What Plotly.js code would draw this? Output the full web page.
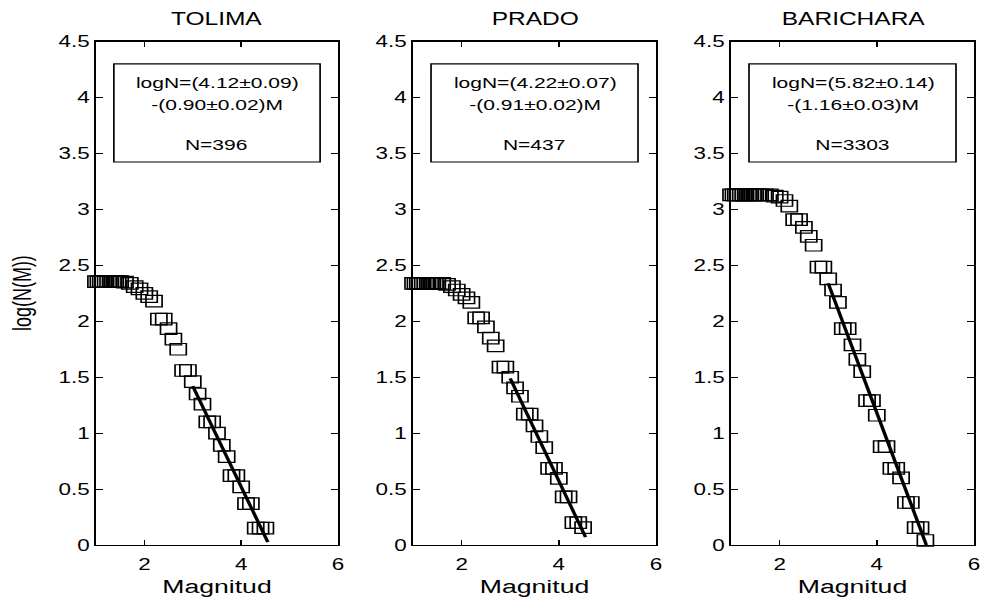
<!DOCTYPE html>
<html>
<head>
<meta charset="utf-8">
<script src="https://cdn.plot.ly/plotly-3.0.1.min.js"></script>
<style>
  html, body { margin: 0; padding: 0; background: #fff; overflow: hidden; }
  #wrap { width: 982px; height: 601px; overflow: hidden; }
  #chart { width: 701px; height: 601px; transform: scaleX(1.4009); transform-origin: 0 0; }
</style>
</head>
<body>
<div id="wrap"><div id="chart"></div></div>
<script>
// ---- data ----
const panelTitles = ["TOLIMA", "PRADO", "BARICHARA"];
const eqLine1 = ["logN=(4.12\u00B10.09)", "logN=(4.22\u00B10.07)", "logN=(5.82\u00B10.14)"];
const eqLine2 = ["-(0.90\u00B10.02)M", "-(0.91\u00B10.02)M", "-(1.16\u00B10.03)M"];
const countLabels = ["N=396", "N=437", "N=3303"];

const tolimaM = [1.0,1.05,1.1,1.15,1.2,1.25,1.3,1.35,1.4,1.45,1.5,1.6,1.7,1.8,1.9,2.0,2.1,2.2,
  2.3,2.4,2.5,2.6,2.7,2.8,2.9,3.0,3.1,3.2,3.3,3.4,3.5,3.6,3.7,3.8,3.9,4.0,4.1,4.2,4.3,4.4,4.5];
const tolimaLogN = [2.355,2.355,2.355,2.355,2.355,2.355,2.355,2.355,2.355,2.355,2.355,2.35,2.34,2.31,2.29,2.25,2.22,2.18,
  2.02,2.02,1.935,1.84,1.75,1.56,1.56,1.46,1.35,1.26,1.10,1.10,1.0,0.89,0.79,0.62,0.62,0.52,0.37,0.37,0.15,0.15,0.15];

const pradoM = [1.0,1.05,1.1,1.15,1.2,1.25,1.3,1.35,1.4,1.45,1.5,1.6,1.7,1.8,1.9,2.0,2.1,2.2,
  2.3,2.4,2.5,2.6,2.7,2.8,2.9,3.0,3.1,3.2,3.3,3.4,3.5,3.6,3.7,3.8,3.9,4.0,4.1,4.2,4.3,4.4,4.5];
const pradoLogN = [2.34,2.34,2.34,2.34,2.34,2.34,2.34,2.34,2.34,2.34,2.34,2.34,2.33,2.31,2.28,2.24,2.21,2.17,
  2.03,2.03,1.95,1.85,1.78,1.59,1.59,1.50,1.405,1.33,1.17,1.17,1.065,0.97,0.87,0.685,0.685,0.595,0.43,0.43,0.20,0.20,0.155];

const baricharaM = [1.0,1.05,1.1,1.15,1.2,1.25,1.3,1.35,1.4,1.45,1.5,1.55,1.6,1.7,1.8,1.9,2.0,2.1,2.2,
  2.3,2.4,2.5,2.6,2.7,2.8,2.9,3.0,3.1,3.2,3.3,3.4,3.5,3.6,3.7,3.8,3.9,4.0,4.1,4.2,4.3,4.4,4.5,4.6,4.7,4.8,4.9,5.0];
const baricharaLogN = [3.13,3.13,3.13,3.13,3.13,3.13,3.13,3.13,3.13,3.13,3.13,3.13,3.13,3.13,3.13,3.12,3.11,3.08,3.03,
  2.91,2.91,2.84,2.76,2.68,2.485,2.485,2.38,2.28,2.17,1.935,1.935,1.79,1.66,1.55,1.29,1.29,1.16,0.88,0.88,0.685,0.685,0.60,0.38,0.38,0.155,0.155,0.04];

// least-squares lines as drawn in the reference (end points)
const tolimaFitM = [3.0, 4.55];
const tolimaFitLogN = [1.42, 0.025];
const pradoFitM = [3.0, 4.55];
const pradoFitLogN = [1.49, 0.07];
const baricharaFitM = [3.0, 5.02];
const baricharaFitLogN = [2.34, 0.0];

const xTickVals = [2, 4, 6];
const yTickVals = [0, 0.5, 1, 1.5, 2, 2.5, 3, 3.5, 4, 4.5];
const xLabel = "Magnitud";
const yLabel = "log(N(M))";

// ---- build figure ----
const series = [
  {m: tolimaM, y: tolimaLogN, fm: tolimaFitM, fy: tolimaFitLogN},
  {m: pradoM, y: pradoLogN, fm: pradoFitM, fy: pradoFitLogN},
  {m: baricharaM, y: baricharaLogN, fm: baricharaFitM, fy: baricharaFitLogN}
];
const domains = [[0.0977, 0.3442], [0.4206, 0.6680], [0.7444, 0.9918]];
const yDomain = [0.0932, 0.9306];
const FONT = "Liberation Sans, Arial, sans-serif";

const traces = [];
const layout = {
  width: 701, height: 601,
  margin: {l: 0, r: 0, t: 0, b: 0},
  paper_bgcolor: "#fff", plot_bgcolor: "#fff",
  showlegend: false,
  font: {family: FONT, color: "#000"},
  annotations: [], shapes: []
};

series.forEach((s, i) => {
  const sx = i === 0 ? "" : String(i + 1);
  traces.push({
    type: "scatter", mode: "markers", x: s.m, y: s.y,
    xaxis: "x" + sx, yaxis: "y" + sx, cliponaxis: false,
    marker: {symbol: "square-open", size: 11.5, color: "#000", line: {width: 1.2, color: "#000"}},
    hoverinfo: "skip"
  });
  traces.push({
    type: "scatter", mode: "lines", x: s.fm, y: s.fy,
    xaxis: "x" + sx, yaxis: "y" + sx,
    line: {color: "#000", width: 2.5}, hoverinfo: "skip"
  });
  const axCommon = {
    showline: true, linecolor: "#000", linewidth: 1.3, mirror: "ticks",
    ticks: "inside", ticklen: 5, tickwidth: 1, tickcolor: "#000",
    showgrid: false, zeroline: false, fixedrange: true,
    tickfont: {family: FONT, size: 16, color: "#000"}
  };
  layout["xaxis" + sx] = Object.assign({}, axCommon, {
    domain: domains[i], range: [1, 6], tickmode: "array", tickvals: xTickVals,
    anchor: "y" + sx, ticklabelstandoff: 5,
    title: {text: xLabel, font: {family: FONT, size: 19, color: "#000"}, standoff: 7}
  });
  layout["yaxis" + sx] = Object.assign({}, axCommon, {
    domain: yDomain, range: [0, 4.5], tickmode: "array", tickvals: yTickVals,
    anchor: "x" + sx
  });
  const xr = "x" + sx + " domain", yr = "y" + sx + " domain";
  layout.shapes.push({type: "rect", xref: xr, yref: yr, x0: 0.074, x1: 0.926, y0: 0.761, y1: 0.956,
    line: {color: "#000", width: 1.2}, fillcolor: "rgba(0,0,0,0)"});
  const txt = [[eqLine1[i], 0.918], [eqLine2[i], 0.876], [countLabels[i], 0.795]];
  txt.forEach(t => layout.annotations.push({
    xref: xr, yref: yr, x: 0.5, y: t[1], text: t[0], showarrow: false,
    xanchor: "center", yanchor: "middle", font: {family: FONT, size: 15, color: "#000"}
  }));
  layout.annotations.push({
    xref: "paper", yref: "paper", x: (domains[i][0] + domains[i][1]) / 2, y: 0.9676,
    text: panelTitles[i], showarrow: false, xanchor: "center", yanchor: "middle",
    font: {family: FONT, size: 17.5, color: "#000"}
  });
});
layout.annotations.push({
  xref: "paper", yref: "paper", x: 0.0239, y: (yDomain[0] + yDomain[1]) / 2,
  text: yLabel, showarrow: false, textangle: -90, xanchor: "center", yanchor: "middle",
  font: {family: FONT, size: 18, color: "#000"}
});

Plotly.newPlot("chart", traces, layout, {staticPlot: true, displayModeBar: false});
</script>
</body>
</html>
